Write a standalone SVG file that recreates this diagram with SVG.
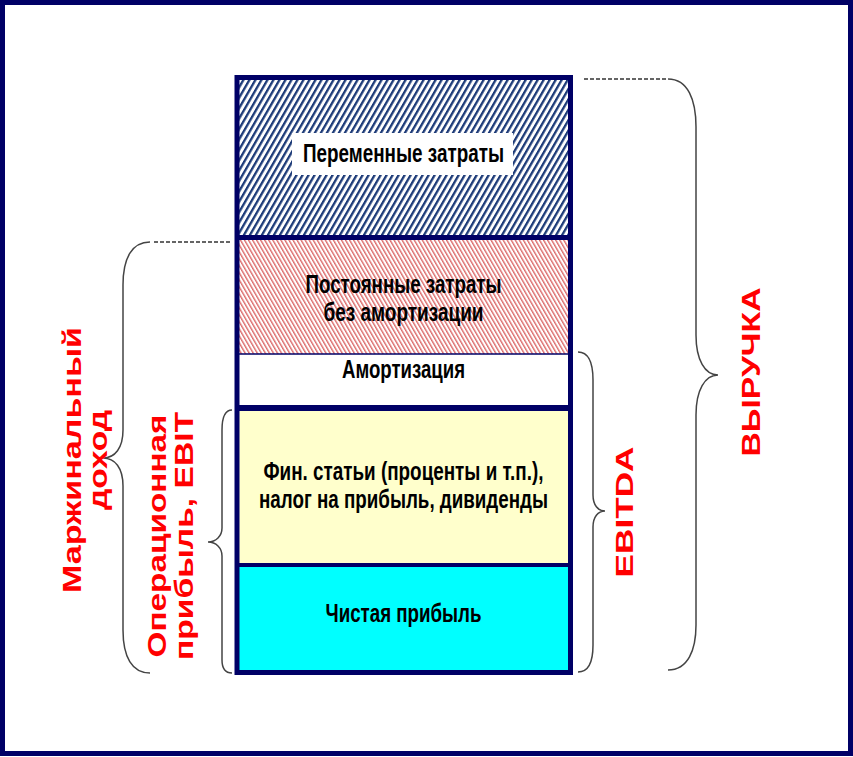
<svg xmlns="http://www.w3.org/2000/svg" width="853" height="757" viewBox="0 0 853 757">
<style>
.lbl{font-family:"Liberation Sans",Arial,sans-serif;font-weight:bold;font-size:25px;fill:#000;text-anchor:middle}
.red{font-family:"Liberation Sans",Arial,sans-serif;font-weight:bold;font-size:26px;fill:#ff0000;text-anchor:middle}
.brace{fill:none;stroke:#444;stroke-width:1.5}
.dot{fill:none;stroke:#333;stroke-width:1.6;stroke-dasharray:4 2}
.sep{stroke:#000066}
</style>
<defs>
<pattern id="hatchBlue" patternUnits="userSpaceOnUse" width="5.2" height="10" patternTransform="rotate(30)">
<rect width="5.2" height="10" fill="#fff"/>
<rect width="2.3" height="10" fill="#1c3a78"/>
</pattern>
<pattern id="hatchPink" patternUnits="userSpaceOnUse" width="3.5" height="10" patternTransform="rotate(-30)">
<rect width="3.5" height="10" fill="#fff"/>
<rect width="1.4" height="10" fill="#dc6a6a"/>
</pattern>
</defs>
<rect x="0" y="0" width="853" height="757" fill="#fff"/>
<rect id="frame" x="2.5" y="2.5" width="848" height="751" fill="none" stroke="#000066" stroke-width="5"/>

<g id="variable-costs">
<rect x="237" y="77.5" width="333.5" height="160" fill="url(#hatchBlue)"/>
<rect x="292" y="133" width="221" height="42" fill="#fff"/>
<text class="lbl" x="403.5" y="162" textLength="201" lengthAdjust="spacingAndGlyphs">Переменные затраты</text>
</g>
<g id="fixed-costs">
<rect x="237" y="237.5" width="333.5" height="116.5" fill="url(#hatchPink)"/>
<text class="lbl" x="403.5" y="293" textLength="196" lengthAdjust="spacingAndGlyphs">Постоянные затраты</text>
<text class="lbl" x="403.5" y="321" textLength="160" lengthAdjust="spacingAndGlyphs">без амортизации</text>
</g>
<g id="amortization">
<rect x="237" y="354" width="333.5" height="54" fill="#fff"/>
<text class="lbl" x="403.5" y="378" textLength="123" lengthAdjust="spacingAndGlyphs">Амортизация</text>
</g>
<g id="financial-items">
<rect x="237" y="408" width="333.5" height="157" fill="#ffffcc"/>
<text class="lbl" x="403.5" y="480" textLength="280" lengthAdjust="spacingAndGlyphs">Фин. статьи (проценты и т.п.),</text>
<text class="lbl" x="403.5" y="508" textLength="289" lengthAdjust="spacingAndGlyphs">налог на прибыль, дивиденды</text>
</g>
<g id="net-profit">
<rect x="237" y="565" width="333.5" height="107.5" fill="#00ffff"/>
<text class="lbl" x="403.5" y="622" textLength="156" lengthAdjust="spacingAndGlyphs">Чистая прибыль</text>
</g>
<g id="column-border">
<line class="sep" x1="237" y1="237.5" x2="570.5" y2="237.5" stroke-width="5"/>
<line class="sep" x1="237" y1="354" x2="570.5" y2="354" stroke-width="1.5"/>
<line class="sep" x1="237" y1="408" x2="570.5" y2="408" stroke-width="6"/>
<line class="sep" x1="237" y1="565" x2="570.5" y2="565" stroke-width="4"/>
<rect x="237" y="77.5" width="333.5" height="595" fill="none" stroke="#000066" stroke-width="5"/>
</g>

<g id="connectors">
<line class="dot" x1="584" y1="79" x2="668" y2="79"/>
<path class="brace" d="M668,79 C688,79 696,100 696,127 L696,335 C696,360 705,375 718,375 C705,375 696,390 696,415 L696,625 C696,650 688,670 668,670"/>
<path class="brace" d="M578,352 C588,352 593,362 593,380 L593,495 C593,505 598,511 605,511 C598,511 593,517 593,527 L593,645 C593,662 588,672 578,672"/>
<line class="dot" x1="154" y1="242" x2="232" y2="242"/>
<path class="brace" d="M150,242 C132,242 123,258 123,285 L123,430 C123,448 115,458 103,458 C115,458 123,468 123,486 L123,630 C123,657 132,673 150,673"/>
<path class="brace" d="M232,410 C225,410 222,418 222,430 L222,528 C222,536 216,542 208,542 C216,542 222,548 222,556 L222,660 C222,668 225,673 232,673"/>
</g>

<g id="label-margin">
<text class="red" transform="translate(81,460) rotate(-90)" textLength="266" lengthAdjust="spacingAndGlyphs">Маржинальный</text>
<text class="red" transform="translate(107,460) rotate(-90)" textLength="100" lengthAdjust="spacingAndGlyphs">доход</text>
</g>
<g id="label-ebit">
<text class="red" transform="translate(166,536) rotate(-90)" textLength="243" lengthAdjust="spacingAndGlyphs">Операционная</text>
<text class="red" transform="translate(193,536) rotate(-90)" textLength="248" lengthAdjust="spacingAndGlyphs">прибыль, EBIT</text>
</g>
<g id="label-ebitda">
<text class="red" style="font-size:24px" transform="translate(633,512) rotate(-90)" textLength="131" lengthAdjust="spacingAndGlyphs">EBITDA</text>
</g>
<g id="label-revenue">
<text class="red" style="font-size:25px" transform="translate(760,372) rotate(-90)" textLength="169" lengthAdjust="spacingAndGlyphs">ВЫРУЧКА</text>
</g>
</svg>
